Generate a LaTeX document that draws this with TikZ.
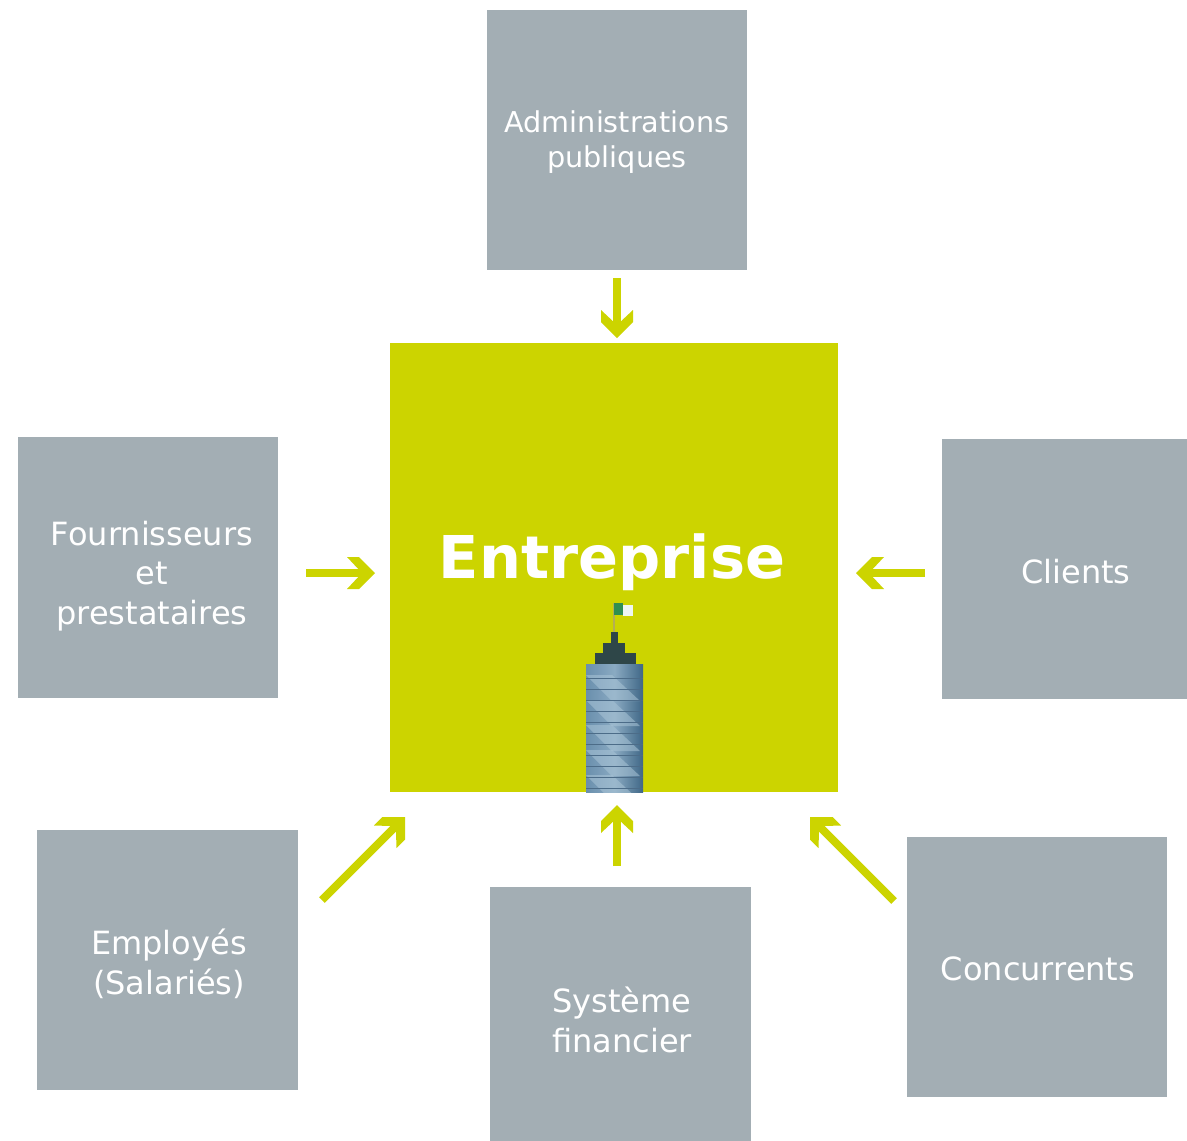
\documentclass[tikz,border=0pt]{standalone}
\usepackage{fontspec}
\setmainfont{DejaVu Sans}
\usetikzlibrary{arrows.meta,shadings}
\definecolor{lime}{HTML}{CCD400}
\definecolor{greybox}{HTML}{A3AEB4}
\definecolor{towerdark}{HTML}{2E4648}
\definecolor{towerleft}{HTML}{6A8FAD}
\definecolor{towermid}{HTML}{8AAAC2}
\definecolor{towerright}{HTML}{3F6786}
\definecolor{towerline}{HTML}{4C6C88}
\definecolor{towerstreak}{HTML}{A9C4D6}
\definecolor{flaggreen}{HTML}{2F8F50}
\definecolor{flagpole}{HTML}{B5AE55}
\pgfdeclarearrow{
  name=FlatBarb,
  setup code={\pgfarrowssettipend{0pt}\pgfarrowssetlineend{-12pt}\pgfarrowssetbackend{-28pt}\pgfarrowssetvisualbackend{-28pt}},
  drawing code={
    \pgfpathmoveto{\pgfqpoint{0pt}{0pt}}
    \pgfpathlineto{\pgfqpoint{-16pt}{16pt}}
    \pgfpathlineto{\pgfqpoint{-28pt}{16pt}}
    \pgfpathlineto{\pgfqpoint{-13pt}{0pt}}
    \pgfpathlineto{\pgfqpoint{-28pt}{-16pt}}
    \pgfpathlineto{\pgfqpoint{-16pt}{-16pt}}
    \pgfpathclose
    \pgfusepathqfill
  }
}
\tikzset{
  box/.style={fill=greybox,draw=none,inner sep=0pt,anchor=north west},
  lbl/.style={text=white,font=\fontsize{32}{39.5}\selectfont,align=center,inner sep=0pt},
  conn/.style={draw=lime,line width=8pt,-{FlatBarb[]},line cap=butt},
}
\begin{document}
\begin{tikzpicture}[x=1pt,y=-1pt]
\useasboundingbox (0,0) rectangle (1187,1141);
\fill[white] (0,0) rectangle (1187,1141);
% boxes
\node[box,minimum width=260pt,minimum height=260pt] (admin) at (487,10) {};
\node[box,minimum width=260pt,minimum height=261pt] (four) at (18,437) {};
\node[box,minimum width=245pt,minimum height=260pt] (cli) at (942,439) {};
\node[box,minimum width=261pt,minimum height=260pt] (emp) at (37,830) {};
\node[box,minimum width=261pt,minimum height=254pt] (sys) at (490,887) {};
\node[box,minimum width=260pt,minimum height=260pt] (conc) at (907,837) {};
\node[anchor=north west,fill=lime,inner sep=0pt,minimum width=448pt,minimum height=449pt] (ent) at (390,343) {};
% labels
\node[lbl,font=\fontsize{28.7}{35}\selectfont] (ladmin) at (617,142.5) {Administrations\\publiques};
\node[lbl] (lfour) at (152,576) {Fournisseurs\\et\\prestataires};
\node[lbl] (lcli) at (1076,572) {Clients};
\node[lbl] (lemp) at (169,964) {Employés\\(Salariés)};
\node[lbl] (lsys) at (622,1020) {Système\\financier};
\node[lbl] (lconc) at (1038,969) {Concurrents};
\node[text=white,inner sep=0pt,font=\bfseries\fontsize{59}{70}\selectfont] (lent) at (612,562) {Entreprise};
% building
\fill[flagpole] (612.6,603) rectangle (614.6,632);
\fill[flaggreen] (614,603) rectangle (623,615);
\fill[white!92!flaggreen] (623,605) rectangle (633,616);
\fill[towerdark] (611,632) rectangle (618,644);
\fill[towerdark] (603,643) rectangle (625,654);
\fill[towerdark] (595,653) rectangle (636,665);
\begin{scope}
\clip (586,664) rectangle (643,792);
\shade[left color=towerleft,right color=towerright,middle color=towermid] (586,664) rectangle (643,792);
\foreach \yy in {675,700,725,750,775}
  \fill[towerstreak,opacity=.55] (586,\yy) -- (612,\yy) -- (640,\yy+26) -- (612,\yy+26) -- cycle;
\foreach \yy in {678,689,700,711,722,733,744,755,766,777,788}
  \draw[towerline,line width=1pt] (586,\yy) -- (643,\yy);
\end{scope}
% connectors
\coordinate (c1) at (617,278);
\coordinate (c2) at (617,338);
\coordinate (c3) at (306,573);
\coordinate (c4) at (375,573);
\coordinate (c5) at (925,573);
\coordinate (c6) at (856,573);
\coordinate (c7) at (322,900);
\coordinate (c8) at (405,817);
\coordinate (c9) at (617,866);
\coordinate (c10) at (617,805);
\coordinate (c11) at (894,901);
\coordinate (c12) at (810,817);
\draw[conn] (c1) -- (c2);
\draw[conn] (c3) -- (c4);
\draw[conn] (c5) -- (c6);
\draw[conn] (c7) -- (c8);
\draw[conn] (c9) -- (c10);
\draw[conn] (c11) -- (c12);
\end{tikzpicture}
\end{document}
